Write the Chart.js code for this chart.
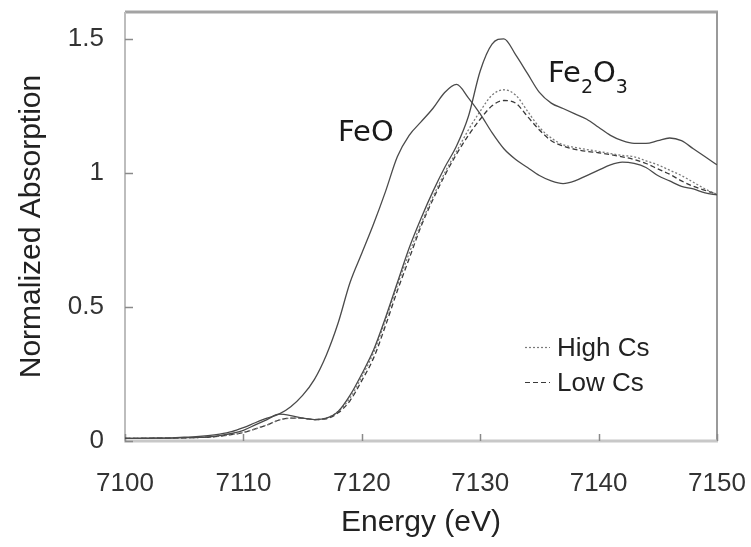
<!DOCTYPE html>
<html>
<head>
<meta charset="utf-8">
<script src="https://cdn.jsdelivr.net/npm/chart.js@4.4.1/dist/chart.umd.min.js"></script>
<style>
  html, body { margin: 0; padding: 0; background: #fff; }
  #chart { display: block; }
</style>
</head>
<body>
<canvas id="chart" width="751" height="547"></canvas>
<script>
// energy grid (eV)
const energy = [
    7100, 7101, 7102, 7103, 7104, 7105, 7106, 7107, 7108, 7109,
    7110, 7111, 7112, 7113, 7114, 7115, 7116, 7117, 7118, 7119,
    7120, 7121, 7122, 7123, 7124, 7125, 7126, 7127, 7128, 7129,
    7130, 7131, 7132, 7133, 7134, 7135, 7136, 7137, 7138, 7139,
    7140, 7141, 7142, 7143, 7144, 7145, 7146, 7147, 7148, 7149,
    7150
];

const feo = [
    0.010, 0.010, 0.011, 0.011, 0.012, 0.014, 0.016, 0.020, 0.026, 0.035,
    0.050, 0.068, 0.085, 0.100, 0.128, 0.170, 0.230, 0.320, 0.440, 0.590,
    0.700, 0.810, 0.930, 1.060, 1.140, 1.190, 1.240, 1.300, 1.330, 1.280,
    1.220, 1.150, 1.090, 1.050, 1.020, 0.990, 0.970, 0.960, 0.970, 0.990,
    1.010, 1.030, 1.040, 1.035, 1.020, 0.990, 0.970, 0.950, 0.940, 0.925,
    0.918
];

const fe2o3 = [
    0.010, 0.010, 0.010, 0.011, 0.011, 0.012, 0.013, 0.015, 0.020, 0.028,
    0.040, 0.060, 0.080, 0.100, 0.095, 0.085, 0.080, 0.085, 0.110, 0.170,
    0.250, 0.340, 0.460, 0.590, 0.720, 0.830, 0.930, 1.020, 1.100, 1.210,
    1.380, 1.480, 1.500, 1.440, 1.370, 1.300, 1.260, 1.240, 1.220, 1.200,
    1.170, 1.140, 1.120, 1.110, 1.110, 1.120, 1.130, 1.120, 1.090, 1.060,
    1.030
];

const highCs = [
    0.010, 0.010, 0.010, 0.011, 0.011, 0.012, 0.013, 0.014, 0.018, 0.024,
    0.032, 0.045, 0.060, 0.078, 0.085, 0.085, 0.080, 0.085, 0.110, 0.160,
    0.240, 0.330, 0.450, 0.580, 0.700, 0.810, 0.910, 1.000, 1.080, 1.160,
    1.230, 1.290, 1.310, 1.290, 1.230, 1.170, 1.130, 1.105, 1.095, 1.087,
    1.080, 1.072, 1.065, 1.060, 1.045, 1.030, 1.010, 0.990, 0.965, 0.940,
    0.920
];

const lowCs = [
    0.010, 0.010, 0.010, 0.011, 0.011, 0.012, 0.013, 0.014, 0.018, 0.024,
    0.032, 0.045, 0.060, 0.078, 0.085, 0.085, 0.080, 0.083, 0.105, 0.150,
    0.225, 0.310, 0.430, 0.560, 0.680, 0.800, 0.900, 0.990, 1.070, 1.140,
    1.200, 1.250, 1.270, 1.260, 1.210, 1.160, 1.120, 1.100, 1.088, 1.080,
    1.075, 1.068, 1.060, 1.050, 1.035, 1.015, 0.995, 0.970, 0.950, 0.935,
    0.920
];

const xTicks = [7100, 7110, 7120, 7130, 7140, 7150];
const yTicks = [0, 0.5, 1, 1.5];

function toPoints(values) {
    return values.map((v, i) => ({ x: energy[i], y: v }));
}

// frame, inward ticks, labels and legend
const decorations = {
    id: "decorations",
    beforeDatasetsDraw(chart) {
        const ctx = chart.ctx;
        const a = chart.chartArea;
        const xs = chart.scales.x;
        const ys = chart.scales.y;
        ctx.save();
        ctx.lineCap = "butt";

        ctx.strokeStyle = "#a3a3a3";
        ctx.lineWidth = 3;
        ctx.beginPath();
        ctx.moveTo(a.left, a.top);
        ctx.lineTo(a.right + 1, a.top);
        ctx.stroke();

        ctx.strokeStyle = "#9a9a9a";
        ctx.lineWidth = 2;
        ctx.beginPath();
        ctx.moveTo(a.right, a.top);
        ctx.lineTo(a.right, a.bottom);
        ctx.stroke();

        ctx.strokeStyle = "#bdbdbd";
        ctx.lineWidth = 2;
        ctx.beginPath();
        ctx.moveTo(a.left, a.top);
        ctx.lineTo(a.left, a.bottom);
        ctx.stroke();

        ctx.strokeStyle = "#c8c8c8";
        ctx.lineWidth = 3;
        ctx.beginPath();
        ctx.moveTo(a.left - 1, a.bottom);
        ctx.lineTo(a.right + 1, a.bottom);
        ctx.stroke();

        ctx.strokeStyle = "#8a8a8a";
        ctx.lineWidth = 1.5;
        yTicks.forEach(v => {
            const y = Math.round(ys.getPixelForValue(v)) + 0.5;
            ctx.beginPath();
            ctx.moveTo(a.left, y);
            ctx.lineTo(a.left + 8, y);
            ctx.stroke();
        });
        xTicks.forEach(v => {
            const x = Math.round(xs.getPixelForValue(v)) + 0.5;
            ctx.beginPath();
            ctx.moveTo(x, a.bottom);
            ctx.lineTo(x, a.bottom - 7);
            ctx.stroke();
        });
        ctx.restore();
    },
    afterDatasetsDraw(chart) {
        const ctx = chart.ctx;
        const a = chart.chartArea;
        ctx.save();
        ctx.fillStyle = "#1a1a1a";
        ctx.textBaseline = "alphabetic";
        ctx.textAlign = "left";

        // FeO label
        ctx.font = "29px 'DejaVu Sans'";
        ctx.fillText("FeO", a.left + 213, a.top + 129);

        // Fe2O3 label with subscripts
        let x = a.left + 423;
        const base = a.top + 70;
        ctx.font = "29px 'DejaVu Sans'";
        ctx.fillText("Fe", x, base);
        x += ctx.measureText("Fe").width;
        ctx.font = "19px 'DejaVu Sans'";
        ctx.fillText("2", x, base + 11);
        x += ctx.measureText("2").width;
        ctx.font = "29px 'DejaVu Sans'";
        ctx.fillText("O", x, base);
        x += ctx.measureText("O").width;
        ctx.font = "19px 'DejaVu Sans'";
        ctx.fillText("3", x, base + 11);

        // legend
        const ds = chart.data.datasets;
        const entries = [ds[2], ds[3]];
        ctx.font = "26px 'Liberation Sans', Arial, sans-serif";
        ctx.fillStyle = "#222";
        entries.forEach((d, i) => {
            const y = a.top + 335 + i * 35;
            ctx.save();
            ctx.strokeStyle = d.borderColor;
            ctx.lineWidth = 1.2;
            ctx.setLineDash(d.borderDash);
            ctx.beginPath();
            ctx.moveTo(a.left + 400, y + 0.5);
            ctx.lineTo(a.left + 425, y + 0.5);
            ctx.stroke();
            ctx.restore();
            ctx.fillText(d.label, a.left + 432, y + 9);
        });
        ctx.restore();
    }
};

const lineBase = {
    pointRadius: 0,
    fill: false,
    cubicInterpolationMode: "monotone",
    borderWidth: 1.3
};

new Chart(document.getElementById("chart"), {
    type: "line",
    data: {
        datasets: [
            Object.assign({ label: "FeO", data: toPoints(feo), borderColor: "#4a4a4a", borderDash: [] }, lineBase),
            Object.assign({ label: "Fe2O3", data: toPoints(fe2o3), borderColor: "#4a4a4a", borderDash: [] }, lineBase),
            Object.assign({ label: "High Cs", data: toPoints(highCs), borderColor: "#7a7a7a", borderDash: [2, 2] }, lineBase),
            Object.assign({ label: "Low Cs", data: toPoints(lowCs), borderColor: "#3a3a3a", borderDash: [5, 3] }, lineBase)
        ]
    },
    options: {
        responsive: false,
        animation: false,
        events: [],
        layout: { padding: { top: 12, right: 34, left: 0, bottom: 0 } },
        plugins: {
            legend: { display: false },
            tooltip: { enabled: false }
        },
        scales: {
            x: {
                type: "linear",
                min: 7100,
                max: 7150,
                afterBuildTicks: scale => { scale.ticks = xTicks.map(v => ({ value: v })); },
                afterFit: scale => {
                    scale.height = 106;
                    scale.paddingLeft = 0;
                    scale.paddingRight = 0;
                },
                grid: { display: false, drawTicks: false },
                border: { display: false },
                ticks: {
                    font: { size: 26, family: "'Liberation Sans', Arial, sans-serif" },
                    color: "#333",
                    padding: 27,
                    maxRotation: 0,
                    callback: v => String(v)
                },
                title: {
                    display: true,
                    text: "Energy (eV)",
                    font: { size: 30, family: "'Liberation Sans', Arial, sans-serif" },
                    color: "#222",
                    padding: { top: 0, bottom: 6 }
                }
            },
            y: {
                min: 0,
                max: 1.6,
                afterBuildTicks: scale => { scale.ticks = yTicks.map(v => ({ value: v })); },
                afterFit: scale => {
                    scale.width = 125;
                    scale.paddingTop = 0;
                    scale.paddingBottom = 0;
                },
                grid: { display: false, drawTicks: false },
                border: { display: false },
                ticks: {
                    font: { size: 26, family: "'Liberation Sans', Arial, sans-serif" },
                    color: "#333",
                    padding: 21,
                    callback: v => String(v)
                },
                title: {
                    display: true,
                    text: "Normalized Absorption",
                    font: { size: 30, family: "'Liberation Sans', Arial, sans-serif" },
                    color: "#222",
                    padding: { top: 14, bottom: 0 }
                }
            }
        }
    },
    plugins: [decorations]
});
</script>
</body>
</html>
